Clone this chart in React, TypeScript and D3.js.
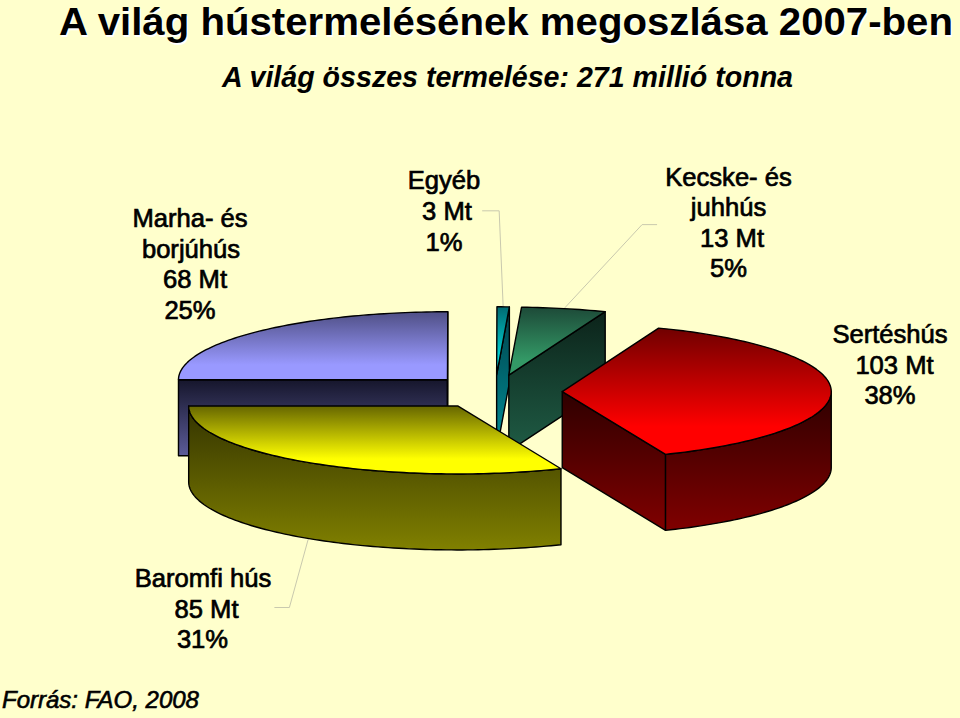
import * as d3 from "d3";

const FONT = "'Liberation Sans', Arial, sans-serif";
const BG = "#ffffcc";
const LEADER = "#c9c9ae";

// slices, clockwise from the west edge of the pie
const sliceNames = ["Marha", "Egyeb", "Kecske", "Sertes", "Baromfi"];
const sliceValues = [68, 2, 13.8, 103, 85];

const labelLines = [
  ["Marha- és", "borjúhús", "68 Mt", "25%"],
  ["Egyéb", "3 Mt", "1%"],
  ["Kecske- és", "juhhús", "13 Mt", "5%"],
  ["Sertéshús", "103 Mt", "38%"],
  ["Baromfi hús", "85 Mt", "31%"],
];

const TOP_COLORS: Record<string, [string, string]> = {
  Marha: ["#4f4f85", "#9999ff"],
  Egyeb: ["#006a72", "#00d8d8"],
  Kecske: ["#1d4a38", "#339966"],
  Sertes: ["#700000", "#ff0000"],
  Baromfi: ["#666600", "#ffff00"],
};
const SIDE_COLORS: Record<string, [string, string]> = {
  Marha: ["#16162c", "#5c5c99"],
  Egyeb: ["#00414a", "#009099"],
  Kecske: ["#0c231a", "#1f5c45"],
  Sertes: ["#2e0000", "#800000"],
  Baromfi: ["#333300", "#808000"],
};

// where each label block sits, per line centre x
const LABEL_POS: Record<string, { xs: number[]; y: number; lh: number }> = {
  Marha: { xs: [190, 191, 195, 190], y: 227, lh: 30.6 },
  Egyeb: { xs: [444, 447, 444], y: 189, lh: 31 },
  Kecske: { xs: [728.5, 728.5, 732, 728.5], y: 185.5, lh: 30.6 },
  Sertes: { xs: [890, 894.5, 890], y: 343, lh: 30.6 },
  Baromfi: { xs: [203, 206.5, 202.5], y: 587, lh: 30.6 },
};

const CX = 495;
const CY = 391.8;
const RX = 269;
const RY = 68;
const DEPTH = 76;
const EXPLODE = 0.25;

const sx = d3.scaleLinear().domain([-1, 1]).range([-RX, RX]);
const sy = d3.scaleLinear().domain([-1, 1]).range([-RY, RY]);
const px = (a: number) => sx(Math.sin(a));
const py = (a: number) => sy(-Math.cos(a));

const pie = d3
  .pie<number>()
  .sort(null)
  .startAngle(-Math.PI / 2)
  .endAngle((3 * Math.PI) / 2);
const arcs = pie(sliceValues);

const line = d3.line<[number, number]>().curve(d3.curveLinear);

function angles(a0: number, a1: number) {
  const n = Math.max(2, Math.ceil((a1 - a0) / 0.02));
  return d3.range(n + 1).map((i) => a0 + ((a1 - a0) * i) / n);
}

function Grad({ id, colors, end = 1 }: { id: string; colors: [string, string]; end?: number }) {
  return (
    <linearGradient id={id} x1="0" y1="0" x2="0" y2={end}>
      <stop offset="0" stopColor={colors[0]} />
      <stop offset="1" stopColor={colors[1]} />
    </linearGradient>
  );
}

export default function App() {
  const slices = arcs.map((d, i) => {
    const name = sliceNames[i];
    const mid = (d.startAngle + d.endAngle) / 2;
    const ox = CX + sx(Math.sin(mid) * EXPLODE);
    const oy = CY + sy(-Math.cos(mid) * EXPLODE);
    const a0 = d.startAngle;
    const a1 = d.endAngle;
    const at = (a: number, down = 0): [number, number] => [ox + px(a), oy + py(a) + down];
    const apex = (down = 0): [number, number] => [ox, oy + down];

    const top = [apex(), ...angles(a0, a1).map((a) => at(a))];
    const sides: [number, number][][] = [];
    // radial cut faces that look towards the viewer
    if (Math.sin(a0) < -1e-6) sides.push([apex(), at(a0), at(a0, DEPTH), apex(DEPTH)]);
    if (Math.sin(a1) > 1e-6) sides.push([apex(), at(a1), at(a1, DEPTH), apex(DEPTH)]);
    // front part of the rim
    const f0 = Math.max(a0, Math.PI / 2);
    const f1 = Math.min(a1, (3 * Math.PI) / 2);
    if (f1 > f0) {
      const rim = angles(f0, f1);
      sides.push([...rim.map((a) => at(a)), ...rim.slice().reverse().map((a) => at(a, DEPTH))]);
    }
    return { name, mid, top, sides, at };
  });

  const byName = (n: string) => slices.find((s) => s.name === n)!;
  const egyeb = byName("Egyeb");
  const kecske = byName("Kecske");
  const baromfi = byName("Baromfi");
  const egP = egyeb.at(egyeb.mid);
  const keP = kecske.at(kecske.mid);
  const baP = baromfi.at(baromfi.mid, DEPTH);
  const leaders: [number, number][][] = [
    [egP, [egP[0] - 4, egP[1] - 96], [egP[0] - 21, egP[1] - 96]],
    [keP, [keP[0] + 78, keP[1] - 84], [keP[0] + 93, keP[1] - 84]],
    [baP, [baP[0] - 19, baP[1] + 69], [baP[0] - 34, baP[1] + 69]],
  ];

  const titleProps = {
    x: 506,
    y: 35,
    textAnchor: "middle",
    fontSize: 38.5,
    fontWeight: "bold",
    textLength: 894,
    lengthAdjust: "spacingAndGlyphs",
  };

  return (
    <svg
      width={960}
      height={718}
      style={{ position: "absolute", left: 0, top: 0, display: "block" }}
      fontFamily={FONT}
    >
      <defs>
        {sliceNames.map((n) => (
          <Grad key={n} id={`top-${n}`} colors={TOP_COLORS[n]} end={0.78} />
        ))}
        {sliceNames.map((n) => (
          <Grad key={n} id={`side-${n}`} colors={SIDE_COLORS[n]} />
        ))}
      </defs>
      <rect width={960} height={718} fill={BG} />

      <text {...titleProps} fill="#fff" transform="translate(1.5,1.5)">
        A világ hústermelésének megoszlása 2007-ben
      </text>
      <text {...titleProps} fill="#000">
        A világ hústermelésének megoszlása 2007-ben
      </text>
      <text x={507.5} y={87} textAnchor="middle" fontSize={28.6} fontWeight="bold" fontStyle="italic" fill="#000">
        A világ összes termelése: 271 millió tonna
      </text>

      {leaders.map((l, i) => (
        <path key={i} d={line(l)!} fill="none" stroke={LEADER} strokeWidth={1} />
      ))}

      {slices.map((s) => (
        <g key={s.name} stroke="#000" strokeWidth={1.4} strokeLinejoin="round">
          {s.sides.map((p, i) => (
            <path key={i} d={line(p)! + "Z"} fill={`url(#side-${s.name})`} />
          ))}
          <path d={line(s.top)! + "Z"} fill={`url(#top-${s.name})`} />
        </g>
      ))}

      {sliceNames.map((n, i) =>
        labelLines[i].map((t, j) => (
          <text
            key={n + j}
            x={LABEL_POS[n].xs[j]}
            y={LABEL_POS[n].y + j * LABEL_POS[n].lh}
            textAnchor="middle"
            fontSize={25.6}
            fill="#000"
            stroke="#000"
            strokeWidth={0.7}
          >
            {t}
          </text>
        ))
      )}

      <text x={2} y={708} fontSize={24} fontStyle="italic" fill="#000" stroke="#000" strokeWidth={0.6}>
        Forrás: FAO, 2008
      </text>
    </svg>
  );
}
